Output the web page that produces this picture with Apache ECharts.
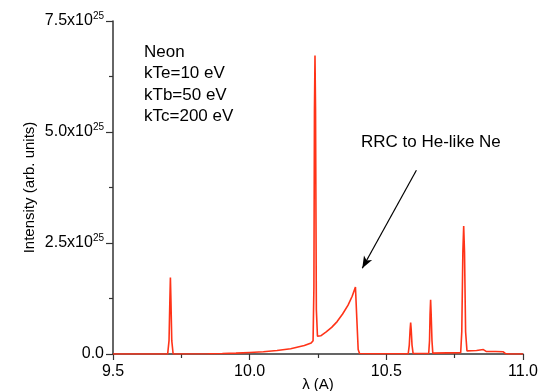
<!DOCTYPE html>
<html>
<head>
<meta charset="utf-8">
<script src="https://cdn.jsdelivr.net/npm/echarts@6/dist/echarts.min.js"></script>
<style>
  html, body { margin: 0; padding: 0; background: #fff; }
  #chart { width: 545px; height: 391px; }
</style>
</head>
<body>
<div id="chart"></div>
<script>
// Wavelength grid (Angstrom) of the simulated neon spectrum
var wavelength = [
  9.50, 9.700, 9.705, 9.708, 9.710, 9.712, 9.715, 9.720,
  9.85, 9.90, 9.95, 10.00, 10.05, 10.10, 10.15, 10.20, 10.225, 10.232,
  10.235, 10.237, 10.239, 10.241, 10.244, 10.248, 10.252,
  10.26, 10.28, 10.30, 10.32, 10.34, 10.36, 10.375, 10.387,
  10.392, 10.397, 10.402, 10.45,
  10.58, 10.584, 10.587, 10.589, 10.591, 10.594, 10.598,
  10.655, 10.658, 10.660, 10.662, 10.664, 10.667, 10.670,
  10.772, 10.776, 10.780, 10.783, 10.786, 10.790, 10.795,
  10.83, 10.855, 10.865, 10.90, 10.928, 10.936, 10.95, 11.0
];
// Intensity in units of 1e25 (arb. units)
var intensity = [
  0, 0, 0.3, 1.2, 1.72, 1.2, 0.3, 0,
  0.005, 0.01, 0.02, 0.035, 0.05, 0.08, 0.12, 0.19, 0.25, 0.3,
  1.5, 5.5, 6.72, 5.5, 1.0, 0.4, 0.36,
  0.41, 0.5, 0.6, 0.73, 0.9, 1.1, 1.3, 1.51,
  0.8, 0.1, 0.01, 0.005,
  0.005, 0.2, 0.55, 0.71, 0.55, 0.2, 0.01,
  0.01, 0.3, 0.9, 1.22, 0.9, 0.3, 0.02,
  0.03, 0.5, 2.3, 2.88, 2.3, 0.5, 0.07,
  0.08, 0.1, 0.06, 0.055, 0.05, 0.01, 0, 0
];
var xTicks = [9.5, 10.0, 10.5, 11.0];
var yTicks = [0, 2.5, 5.0, 7.5];
var infoLines = ['Neon', 'kTe=10 eV', 'kTb=50 eV', 'kTc=200 eV'];
var arrowLabel = 'RRC to He-like Ne';
// Arrow from the label toward the recombination edge (data units)
var arrowFrom = [10.610, 4.14];
var arrowTo = [10.412, 1.93];

var spectrum = wavelength.map(function (w, i) { return [w, intensity[i]]; });
var FONT = 'Liberation Sans, Arial, sans-serif';
var RED = '#ff3318';

var chart = echarts.init(document.getElementById('chart'), null, { renderer: 'canvas' });
chart.setOption({
  animation: false,
  backgroundColor: '#fff',
  grid: { left: 113, right: 22, top: 21, bottom: 37, containLabel: false, outerBoundsMode: 'none' },
  xAxis: {
    type: 'value', min: xTicks[0], max: xTicks[xTicks.length - 1], interval: 0.5,
    name: 'λ (A)', nameLocation: 'middle', nameGap: 23, nameMoveOverlap: false,
    nameTextStyle: { fontFamily: FONT, fontSize: 15, color: '#000' },
    axisLine: { show: true, lineStyle: { color: '#333', width: 1.5 } },
    axisTick: { show: true, length: 6, lineStyle: { color: '#333', width: 1.2 } },
    minorTick: { show: true, splitNumber: 2, length: 4, lineStyle: { color: '#333', width: 1.2 } },
    splitLine: { show: false },
    axisLabel: { fontFamily: FONT, fontSize: 16, color: '#000', margin: 10,
      formatter: function (v) { return v.toFixed(1); } }
  },
  yAxis: {
    type: 'value', min: yTicks[0], max: yTicks[yTicks.length - 1], interval: 2.5,
    name: 'Intensity (arb. units)', nameLocation: 'middle', nameGap: 76, nameMoveOverlap: false,
    nameTextStyle: { fontFamily: FONT, fontSize: 15, color: '#000' },
    axisLine: { show: true, lineStyle: { color: '#333', width: 1.5 } },
    axisTick: { show: true, length: 7, lineStyle: { color: '#333', width: 1.2 } },
    minorTick: { show: true, splitNumber: 2, length: 4, lineStyle: { color: '#333', width: 1.2 } },
    splitLine: { show: false },
    axisLabel: {
      fontFamily: FONT, fontSize: 16, color: '#000', margin: 9,
      formatter: function (v) {
        if (v === 0) return '{b|0.0}';
        return '{b|' + v.toFixed(1) + 'x10}{s|25}';
      },
      rich: {
        b: { fontFamily: FONT, fontSize: 16, color: '#000' },
        s: { fontFamily: FONT, fontSize: 10, color: '#000', padding: [0, 0, 9, 0] }
      }
    }
  },
  series: [{
    type: 'line',
    data: spectrum,
    showSymbol: false,
    lineStyle: { color: RED, width: 1.6 },
    markLine: {
      silent: true,
      symbol: ['none', 'arrow'],
      symbolSize: [7, 12],
      label: { show: false },
      lineStyle: { color: '#000', width: 1.2, type: 'solid' },
      data: [[{ coord: arrowFrom }, { coord: arrowTo }]]
    }
  }],
  graphic: infoLines.map(function (t, i) {
    return {
      type: 'text', left: 144, top: 44 + i * 21.3,
      style: { text: t, font: '17px ' + FONT, fill: '#000' }
    };
  }).concat([{
    type: 'text', left: 361, top: 134,
    style: { text: arrowLabel, font: '17px ' + FONT, fill: '#000' }
  }])
});
</script>
</body>
</html>
